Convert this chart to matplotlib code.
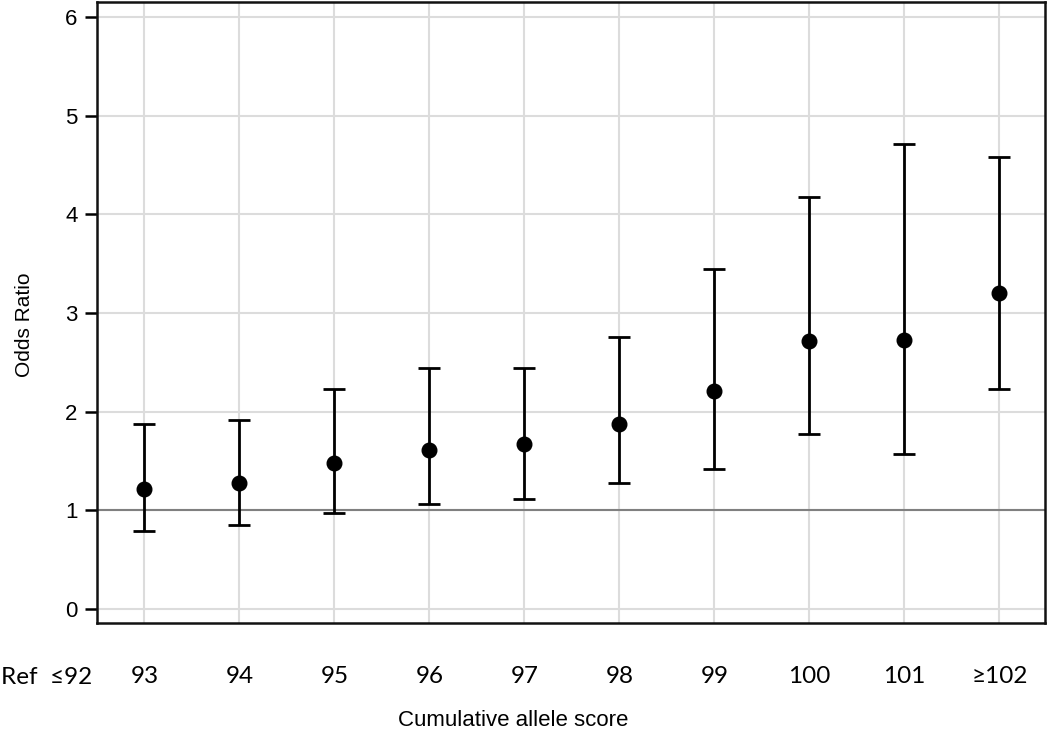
import matplotlib
matplotlib.use("Agg")
import matplotlib.pyplot as plt

scores = [93, 94, 95, 96, 97, 98, 99, 100, 101, 102]
score_labels = ["93", "94", "95", "96", "97", "98", "99", "100", "101", "≥102"]
ref_label = "Ref  ≤92"
odds_ratio = [1.22, 1.28, 1.48, 1.61, 1.67, 1.88, 2.21, 2.72, 2.73, 3.20]
ci_lower = [0.79, 0.85, 0.97, 1.07, 1.12, 1.28, 1.42, 1.77, 1.57, 2.23]
ci_upper = [1.88, 1.92, 2.23, 2.44, 2.44, 2.76, 3.45, 4.17, 4.71, 4.58]
yticks = [0, 1, 2, 3, 4, 5, 6]

fig = plt.figure(figsize=(10.5, 7.29), dpi=100)
ax = fig.add_axes([97/1050, 1-623/729, (1045-97)/1050, (623-2)/729])

yerr = [[o - l for o, l in zip(odds_ratio, ci_lower)],
        [u - o for o, u in zip(odds_ratio, ci_upper)]]

ax.axhline(1, color="#808080", lw=1.5, zorder=2)
ax.errorbar(scores, odds_ratio, yerr=yerr, fmt="o", color="black",
            ecolor="black", elinewidth=2, capsize=8, capthick=2,
            markersize=10.5, zorder=3)

ax.set_xlim(92.5, 102.48)
ax.set_ylim(-0.14, 6.15)
ax.set_xticks(scores)
ax.set_xticklabels(score_labels, fontsize=17.5, family=["Lato", "DejaVu Sans"])
ax.set_yticks(yticks)
ax.set_yticklabels([str(t) for t in yticks], fontsize=16, family="Liberation Sans")
ax.tick_params(axis="x", length=0, pad=31)
ax.tick_params(axis="y", length=9, width=1.8, pad=5, direction="out")
ax.grid(True, color="#dcdcdc", lw=1.5, zorder=0)
ax.set_axisbelow(True)
for s in ax.spines.values():
    s.set_linewidth(1.8)
    s.set_color("#111111")

fig.text(1/1050, 1-677/729, ref_label, ha="left", va="center", fontsize=17.5,
         family=["Lato", "DejaVu Sans"])
fig.text(513/1050, 1-720/729, "Cumulative allele score", ha="center", va="center",
         fontsize=16, family="Liberation Sans")
fig.text(25/1050, 1-325/729, "Odds Ratio", ha="center", va="center",
         rotation=90, fontsize=15, family="Liberation Sans")

fig.savefig("out.png", dpi=100)
